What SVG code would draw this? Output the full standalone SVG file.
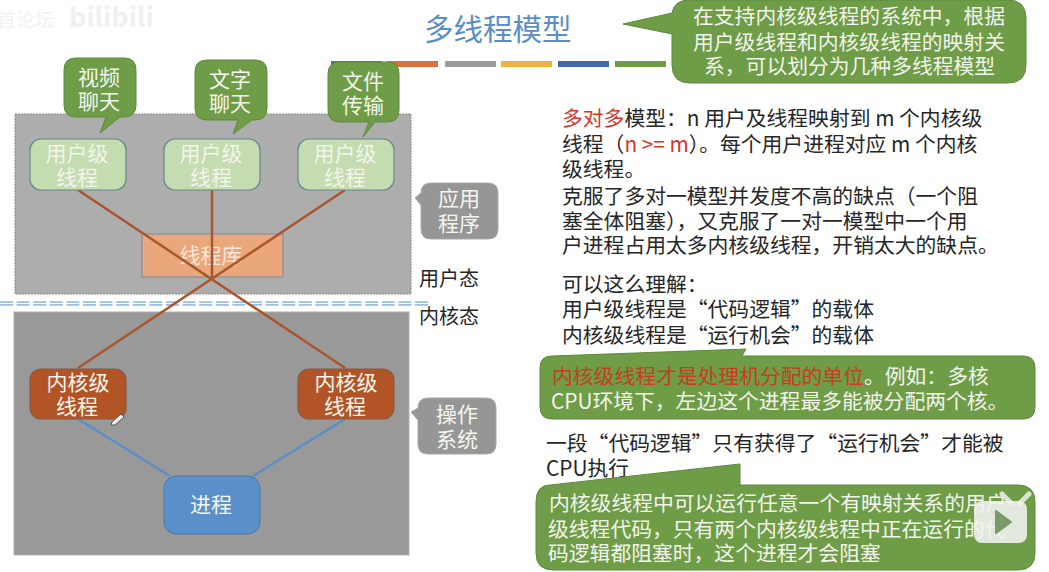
<svg xmlns="http://www.w3.org/2000/svg" width="1049" height="572" viewBox="0 0 1049 572">
<style>
text{font-family:"Noto Sans CJK SC","Liberation Sans",sans-serif;}
.body{font-size:20.8px;fill:#262626;}
.w{font-size:21px;fill:#f4f6ee;text-anchor:middle;}
.uw{font-size:21px;fill:#f1f5ea;text-anchor:middle;}
.cw{font-size:20.8px;fill:#f2f5ec;}
.green{fill:#6f9c47;stroke:#5f8a3c;stroke-width:1;}
.grayc{fill:#969696;stroke:#a8a8a8;stroke-width:1;}
.user{fill:#c5dbb0;stroke:#5f8a8f;stroke-width:1.2;}
.kern{fill:#b35426;stroke:#8a5a45;stroke-width:1.2;}
.red{fill:#d9342b;}
.darkred{fill:#c2401f;}
.bar{height:6px;width:51px;}
</style>
<rect width="1049" height="572" fill="#ffffff"/>
<g id="watermark" opacity="0.5">
<text x="-3" y="27" font-size="19" style="fill:#e6e6e6">首论坛</text>
<text x="69" y="27" font-size="27" font-weight="700" style="fill:#e2e2e2">bilibili</text>
</g>
<text id="title" x="424" y="40" font-size="29.5" style="fill:#5b8ec6">多线程模型</text>
<g id="title-bars">
<rect class="bar" x="331" y="61" fill="#4a70b0"/>
<rect class="bar" x="387" y="61" fill="#d9713a"/>
<rect class="bar" x="445" y="61" fill="#9c9c9c"/>
<rect class="bar" x="501" y="61" fill="#eeb13c"/>
<rect class="bar" x="558" y="61" fill="#4468ae"/>
<rect class="bar" x="615" y="61" fill="#6f9c47"/>
</g>
<rect id="app-layer" x="15" y="114" width="396" height="180" fill="#adadad" stroke="#8a8a8a" stroke-width="1" stroke-dasharray="2 1"/>
<rect id="os-layer" x="14" y="312" width="395" height="243" fill="#999999" stroke="#b0b0b0" stroke-width="1"/>
<line id="divider" x1="0" y1="303.500" x2="429" y2="303.500" stroke="#9dbfe0" stroke-width="4.500" stroke-dasharray="13 3.600"/>
<line x1="0" y1="303.500" x2="429" y2="303.500" stroke="#ffffff" stroke-width="1"/>
<g id="lib">
<rect x="142" y="234" width="141" height="43" fill="#eba77c" stroke="#6f8aa8" stroke-width="1"/>
<text class="w" x="211" y="263" style="fill:#f8e6d8">线程库</text>
</g>
<g id="connectors" fill="none" stroke-width="2.500">
<g stroke="#a9562c">
<line x1="78" y1="190" x2="345" y2="368"/>
<line x1="212" y1="190" x2="212" y2="277"/>
<line x1="345" y1="190" x2="78" y2="368"/>
</g>
<g stroke="#5a8fc8">
<line x1="78" y1="419" x2="170" y2="476"/>
<line x1="345" y1="419" x2="253" y2="476"/>
</g>
</g>
<g id="user-thread-1"><rect class="user" x="30" y="139" width="96" height="51" rx="11"/><text class="uw" x="77" y="161">用户级</text><text class="uw" x="77" y="185">线程</text></g>
<g id="user-thread-2"><rect class="user" x="164" y="139" width="96" height="51" rx="11"/><text class="uw" x="211" y="161">用户级</text><text class="uw" x="211" y="185">线程</text></g>
<g id="user-thread-3"><rect class="user" x="298" y="139" width="96" height="51" rx="11"/><text class="uw" x="345" y="161">用户级</text><text class="uw" x="345" y="185">线程</text></g>
<g id="callout-video"><path class="green" d="M76 58H124Q136 58 136 70V105Q136 117 124 117H120L100 133L106 117H76Q64 117 64 105V70Q64 58 76 58Z"/><text class="w" x="99" y="85">视频</text><text class="w" x="99" y="109">聊天</text></g>
<g id="callout-text"><path class="green" d="M207 60H255Q267 60 267 72V108Q267 120 255 120H252L233 134L238 120H207Q195 120 195 108V72Q195 60 207 60Z"/><text class="w" x="230" y="87">文字</text><text class="w" x="230" y="111">聊天</text></g>
<g id="callout-file"><path class="green" d="M340 62H387Q399 62 399 74V110Q399 122 387 122H375L363 137L369 122H340Q328 122 328 110V74Q328 62 340 62Z"/><text class="w" x="363" y="89">文件</text><text class="w" x="363" y="113">传输</text></g>
<g id="callout-app"><path class="grayc" d="M431 183H488Q498 183 498 193V229Q498 239 488 239H431Q421 239 421 229V205L415 198L421 193Q421 183 431 183Z"/><text class="w" x="459" y="206">应用</text><text class="w" x="459" y="231">程序</text></g>
<g id="callout-os"><path class="grayc" d="M428 398H486Q496 398 496 408V444Q496 454 486 454H428Q418 454 418 444V420L411 412L418 408Q418 398 428 398Z"/><text class="w" x="457" y="422">操作</text><text class="w" x="457" y="447">系统</text></g>
<text id="user-mode" x="419" y="286" font-size="20" style="fill:#262626">用户态</text>
<text id="kernel-mode" x="419" y="324" font-size="20" style="fill:#262626">内核态</text>
<g id="kernel-thread-1"><rect class="kern" x="30" y="369" width="96" height="50" rx="11"/><text class="w" x="78" y="390">内核级</text><text class="w" x="77" y="414">线程</text></g>
<g id="kernel-thread-2"><rect class="kern" x="298" y="369" width="96" height="50" rx="11"/><text class="w" x="346" y="390">内核级</text><text class="w" x="345" y="414">线程</text></g>
<g id="process"><rect x="164" y="476" width="96" height="58" rx="12" fill="#5a90ca" stroke="#4a78a8" stroke-width="1"/><text class="w" x="211" y="512">进程</text></g>
<g id="pen-cursor"><path d="M112 422L121 414L124 417L115 425L111 425Z" fill="#eeeeee" stroke="#555555" stroke-width="1"/></g>
<g id="callout-top"><path class="green" d="M690 0H1008Q1026 0 1026 18V65Q1026 83 1008 83H690Q672 83 672 65V34L623 24L672 13Q674 0 690 0Z"/>
<text class="cw" x="693" y="24">在支持内核级线程的系统中，根据</text>
<text class="cw" x="693" y="50">用户级线程和内核级线程的映射关</text>
<text class="cw" x="704" y="74">系，可以划分为几种多线程模型</text></g>
<g id="explain-1" class="body">
<text class="body" x="562" y="126"><tspan class="red">多对多</tspan>模型：n 用户及线程映射到 m 个内核级</text>
<text class="body" x="562" y="152">线程（<tspan class="red">n &gt;= m</tspan>）。每个用户进程对应 m 个内核</text>
<text class="body" x="562" y="177">级线程。</text>
<text class="body" x="562" y="204">克服了多对一模型并发度不高的缺点（一个阻</text>
<text class="body" x="562" y="229">塞全体阻塞），又克服了一对一模型中一个用</text>
<text class="body" x="562" y="253">户进程占用太多内核级线程，开销太大的缺点。</text>
<text class="body" x="562" y="292">可以这么理解：</text>
<text class="body" x="562" y="317">用户级线程是“代码逻辑”的载体</text>
<text class="body" x="562" y="343">内核级线程是“运行机会”的载体</text>
</g>
<g id="callout-unit"><path class="green" d="M552 356L746 349L742 356H1023Q1035 356 1035 368V407Q1035 419 1023 419H552Q540 419 540 407V368Q540 356 552 356Z"/>
<text class="cw" x="552" y="384"><tspan class="darkred">内核级线程才是处理机分配的单位</tspan>。例如：多核</text>
<text class="cw" x="551" y="409">CPU环境下，左边这个进程最多能被分配两个核。</text></g>
<text class="body" x="546" y="451">一段“代码逻辑”只有获得了“运行机会”才能被</text>
<text class="body" x="546" y="476">CPU执行</text>
<g id="callout-block"><path class="green" d="M550 485L740 464V485H1018Q1035 485 1035 502V553Q1035 570 1018 570H553Q536 570 536 553V502Q536 485 550 485Z"/>
<text class="cw" x="549" y="511">内核级线程中可以运行任意一个有映射关系的用户</text>
<text class="cw" x="548" y="537">级线程代码，只有两个内核级线程中正在运行的代</text>
<text class="cw" x="548" y="561">码逻辑都阻塞时，这个进程才会阻塞</text></g>
<g id="play-badge"><line x1="1002" y1="494" x2="1011" y2="503" stroke="#f0f0f0" stroke-width="5" stroke-linecap="round" opacity="0.85"/><line x1="1029" y1="494" x2="1020" y2="503" stroke="#f0f0f0" stroke-width="5" stroke-linecap="round" opacity="0.85"/><rect x="974" y="501" width="53" height="42" rx="8" fill="#f2f2f2" opacity="0.88"/><path d="M996 511L1011 522L996 533Z" fill="#7a9a6a" stroke="#7a9a6a" stroke-width="2" stroke-linejoin="round"/></g>
</svg>
